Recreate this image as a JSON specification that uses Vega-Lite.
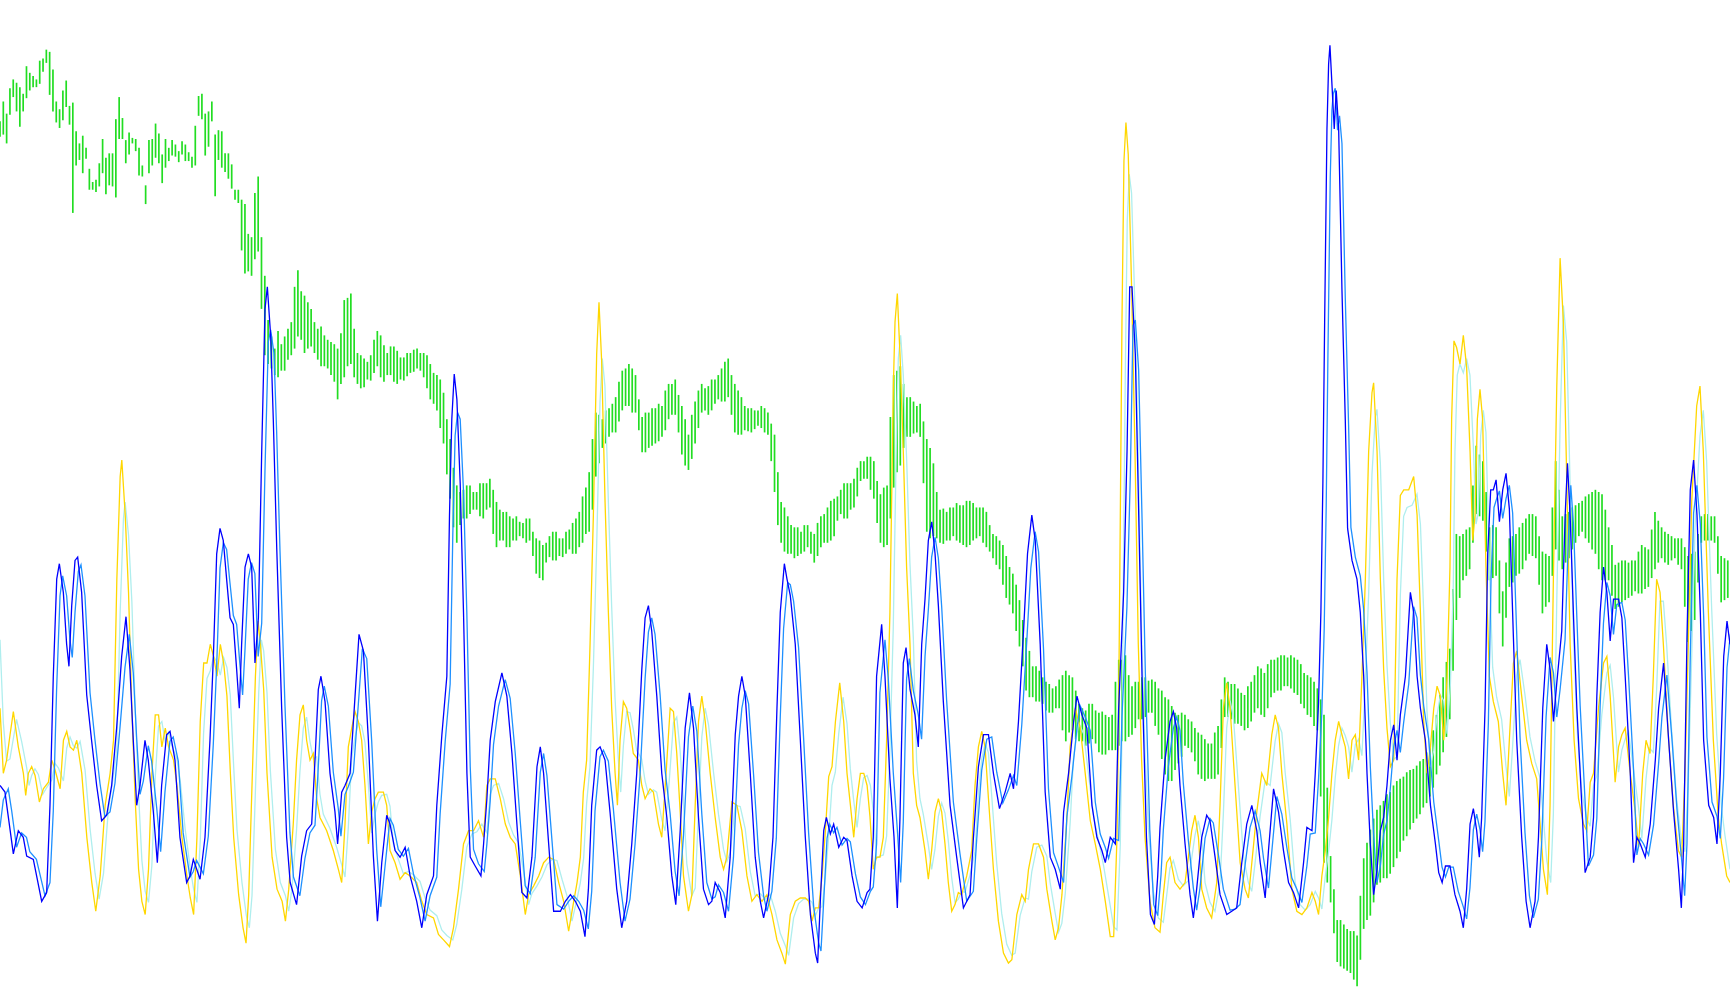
{
"$schema":"https://vega.github.io/schema/vega-lite/v6.json",
"width":1730,"height":1005,
"autosize":{"type":"fit","contains":"padding"},
"padding":0,
"background":"white",
"config":{"view":{"stroke":null}},
"datasets":{
"bars":[{"x":0,"p1":110,"p2":124},{"x":3,"p1":92,"p2":122},{"x":6,"p1":103,"p2":130},{"x":9,"p1":80,"p2":104},{"x":12,"p1":72,"p2":88},{"x":15,"p1":75,"p2":101},{"x":18,"p1":79,"p2":115},{"x":21,"p1":85,"p2":101},{"x":24,"p1":60,"p2":89},{"x":27,"p1":66,"p2":82},{"x":30,"p1":69,"p2":79},{"x":33,"p1":72,"p2":79},{"x":36,"p1":55,"p2":76},{"x":39,"p1":53,"p2":65},{"x":42,"p1":45,"p2":57},{"x":45,"p1":47,"p2":86},{"x":48,"p1":63,"p2":101},{"x":51,"p1":92,"p2":111},{"x":54,"p1":99,"p2":116},{"x":57,"p1":82,"p2":109},{"x":60,"p1":73,"p2":97},{"x":63,"p1":96,"p2":113},{"x":66,"p1":93,"p2":193},{"x":69,"p1":119,"p2":150},{"x":72,"p1":130,"p2":145},{"x":75,"p1":123,"p2":157},{"x":78,"p1":134,"p2":144},{"x":81,"p1":153,"p2":172},{"x":84,"p1":165,"p2":172},{"x":87,"p1":163,"p2":174},{"x":90,"p1":148,"p2":169},{"x":93,"p1":126,"p2":157},{"x":96,"p1":143,"p2":176},{"x":99,"p1":139,"p2":168},{"x":102,"p1":139,"p2":169},{"x":105,"p1":108,"p2":179},{"x":108,"p1":88,"p2":126},{"x":111,"p1":107,"p2":126},{"x":114,"p1":127,"p2":148},{"x":117,"p1":120,"p2":140},{"x":120,"p1":125,"p2":130},{"x":123,"p1":126,"p2":137},{"x":126,"p1":134,"p2":159},{"x":129,"p1":150,"p2":160},{"x":132,"p1":168,"p2":185},{"x":135,"p1":127,"p2":157},{"x":138,"p1":126,"p2":150},{"x":141,"p1":112,"p2":143},{"x":144,"p1":121,"p2":148},{"x":147,"p1":140,"p2":166},{"x":150,"p1":126,"p2":152},{"x":153,"p1":134,"p2":146},{"x":156,"p1":127,"p2":141},{"x":159,"p1":131,"p2":142},{"x":162,"p1":137,"p2":147},{"x":165,"p1":128,"p2":140},{"x":168,"p1":131,"p2":146},{"x":171,"p1":138,"p2":146},{"x":174,"p1":142,"p2":152},{"x":177,"p1":114,"p2":150},{"x":180,"p1":87,"p2":105},{"x":183,"p1":85,"p2":108},{"x":186,"p1":103,"p2":141},{"x":189,"p1":101,"p2":133},{"x":192,"p1":92,"p2":110},{"x":195,"p1":122,"p2":178},{"x":198,"p1":118,"p2":145},{"x":201,"p1":119,"p2":152},{"x":204,"p1":139,"p2":156},{"x":207,"p1":139,"p2":162},{"x":210,"p1":149,"p2":171},{"x":213,"p1":172,"p2":181},{"x":216,"p1":172,"p2":184},{"x":219,"p1":181,"p2":227},{"x":222,"p1":185,"p2":248},{"x":225,"p1":212,"p2":246},{"x":228,"p1":215,"p2":250},{"x":231,"p1":175,"p2":235},{"x":234,"p1":160,"p2":228},{"x":237,"p1":215,"p2":280},{"x":240,"p1":250,"p2":322},{"x":243,"p1":290,"p2":330},{"x":246,"p1":305,"p2":334},{"x":249,"p1":316,"p2":340},{"x":252,"p1":300,"p2":342},{"x":255,"p1":312,"p2":336},{"x":258,"p1":305,"p2":336},{"x":261,"p1":298,"p2":326},{"x":264,"p1":292,"p2":322},{"x":267,"p1":260,"p2":316},{"x":270,"p1":245,"p2":305},{"x":273,"p1":264,"p2":308},{"x":276,"p1":268,"p2":320},{"x":279,"p1":274,"p2":316},{"x":282,"p1":280,"p2":314},{"x":285,"p1":292,"p2":320},{"x":288,"p1":298,"p2":326},{"x":291,"p1":296,"p2":332},{"x":294,"p1":304,"p2":332},{"x":297,"p1":308,"p2":334},{"x":300,"p1":310,"p2":340},{"x":303,"p1":312,"p2":346},{"x":306,"p1":316,"p2":362},{"x":309,"p1":302,"p2":348},{"x":312,"p1":272,"p2":342},{"x":315,"p1":270,"p2":332},{"x":318,"p1":266,"p2":330},{"x":321,"p1":298,"p2":342},{"x":324,"p1":320,"p2":348},{"x":327,"p1":322,"p2":352},{"x":330,"p1":325,"p2":351},{"x":333,"p1":328,"p2":344},{"x":336,"p1":322,"p2":345},{"x":339,"p1":308,"p2":338},{"x":342,"p1":300,"p2":332},{"x":345,"p1":304,"p2":342},{"x":348,"p1":313,"p2":346},{"x":351,"p1":320,"p2":340},{"x":354,"p1":314,"p2":340},{"x":357,"p1":314,"p2":346},{"x":360,"p1":318,"p2":348},{"x":363,"p1":324,"p2":344},{"x":366,"p1":324,"p2":345},{"x":369,"p1":320,"p2":341},{"x":372,"p1":320,"p2":338},{"x":375,"p1":317,"p2":337},{"x":378,"p1":316,"p2":334},{"x":381,"p1":320,"p2":336},{"x":384,"p1":320,"p2":342},{"x":387,"p1":322,"p2":352},{"x":390,"p1":330,"p2":362},{"x":393,"p1":338,"p2":366},{"x":396,"p1":340,"p2":372},{"x":399,"p1":344,"p2":388},{"x":402,"p1":356,"p2":402},{"x":405,"p1":380,"p2":430},{"x":408,"p1":398,"p2":452},{"x":411,"p1":424,"p2":478},{"x":414,"p1":440,"p2":492},{"x":417,"p1":446,"p2":476},{"x":420,"p1":444,"p2":470},{"x":423,"p1":440,"p2":470},{"x":426,"p1":440,"p2":466},{"x":429,"p1":446,"p2":462},{"x":432,"p1":446,"p2":462},{"x":435,"p1":438,"p2":468},{"x":438,"p1":438,"p2":470},{"x":441,"p1":438,"p2":462},{"x":444,"p1":434,"p2":460},{"x":447,"p1":444,"p2":484},{"x":450,"p1":455,"p2":496},{"x":453,"p1":462,"p2":490},{"x":456,"p1":464,"p2":490},{"x":459,"p1":464,"p2":496},{"x":462,"p1":468,"p2":496},{"x":465,"p1":470,"p2":490},{"x":468,"p1":468,"p2":490},{"x":471,"p1":473,"p2":486},{"x":474,"p1":474,"p2":488},{"x":477,"p1":470,"p2":492},{"x":480,"p1":470,"p2":490},{"x":483,"p1":482,"p2":504},{"x":486,"p1":488,"p2":520},{"x":489,"p1":490,"p2":524},{"x":492,"p1":494,"p2":526},{"x":495,"p1":492,"p2":510},{"x":498,"p1":486,"p2":505},{"x":501,"p1":482,"p2":508},{"x":504,"p1":482,"p2":508},{"x":507,"p1":488,"p2":504},{"x":510,"p1":488,"p2":505},{"x":513,"p1":482,"p2":502},{"x":516,"p1":480,"p2":498},{"x":519,"p1":474,"p2":502},{"x":522,"p1":470,"p2":502},{"x":525,"p1":464,"p2":496},{"x":528,"p1":450,"p2":492},{"x":531,"p1":442,"p2":484},{"x":534,"p1":428,"p2":482},{"x":537,"p1":398,"p2":462},{"x":540,"p1":374,"p2":432},{"x":543,"p1":376,"p2":420},{"x":546,"p1":380,"p2":406},{"x":549,"p1":372,"p2":402},{"x":552,"p1":370,"p2":396},{"x":555,"p1":366,"p2":392},{"x":558,"p1":360,"p2":392},{"x":561,"p1":346,"p2":382},{"x":564,"p1":336,"p2":372},{"x":567,"p1":334,"p2":368},{"x":570,"p1":330,"p2":368},{"x":573,"p1":334,"p2":374},{"x":576,"p1":340,"p2":374},{"x":579,"p1":362,"p2":390},{"x":582,"p1":378,"p2":410},{"x":585,"p1":374,"p2":410},{"x":588,"p1":374,"p2":406},{"x":591,"p1":370,"p2":404},{"x":594,"p1":370,"p2":402},{"x":597,"p1":366,"p2":400},{"x":600,"p1":368,"p2":396},{"x":603,"p1":354,"p2":390},{"x":606,"p1":348,"p2":380},{"x":609,"p1":348,"p2":376},{"x":612,"p1":344,"p2":376},{"x":615,"p1":358,"p2":392},{"x":618,"p1":368,"p2":412},{"x":621,"p1":380,"p2":422},{"x":624,"p1":394,"p2":426},{"x":627,"p1":376,"p2":416},{"x":630,"p1":364,"p2":402},{"x":633,"p1":354,"p2":388},{"x":636,"p1":348,"p2":374},{"x":639,"p1":352,"p2":372},{"x":642,"p1":350,"p2":376},{"x":645,"p1":344,"p2":372},{"x":648,"p1":344,"p2":366},{"x":651,"p1":340,"p2":362},{"x":654,"p1":334,"p2":364},{"x":657,"p1":328,"p2":364},{"x":660,"p1":325,"p2":360},{"x":663,"p1":340,"p2":376},{"x":666,"p1":348,"p2":392},{"x":669,"p1":354,"p2":394},{"x":672,"p1":360,"p2":394},{"x":675,"p1":368,"p2":390},{"x":678,"p1":370,"p2":391},{"x":681,"p1":370,"p2":392},{"x":684,"p1":372,"p2":389},{"x":687,"p1":372,"p2":386},{"x":690,"p1":368,"p2":388},{"x":693,"p1":370,"p2":392},{"x":696,"p1":374,"p2":394},{"x":699,"p1":384,"p2":418},{"x":702,"p1":394,"p2":446},{"x":705,"p1":428,"p2":476},{"x":708,"p1":455,"p2":492},{"x":711,"p1":460,"p2":500},{"x":714,"p1":468,"p2":502},{"x":717,"p1":476,"p2":502},{"x":720,"p1":478,"p2":506},{"x":723,"p1":478,"p2":504},{"x":726,"p1":482,"p2":502},{"x":729,"p1":476,"p2":500},{"x":732,"p1":476,"p2":496},{"x":735,"p1":482,"p2":502},{"x":738,"p1":484,"p2":510},{"x":741,"p1":474,"p2":504},{"x":744,"p1":468,"p2":496},{"x":747,"p1":466,"p2":492},{"x":750,"p1":460,"p2":492},{"x":753,"p1":454,"p2":490},{"x":756,"p1":452,"p2":486},{"x":759,"p1":450,"p2":472},{"x":762,"p1":444,"p2":466},{"x":765,"p1":438,"p2":470},{"x":768,"p1":438,"p2":470},{"x":771,"p1":438,"p2":462},{"x":774,"p1":434,"p2":460},{"x":777,"p1":424,"p2":450},{"x":780,"p1":418,"p2":436},{"x":783,"p1":418,"p2":434},{"x":786,"p1":414,"p2":434},{"x":789,"p1":414,"p2":444},{"x":792,"p1":418,"p2":452},{"x":795,"p1":436,"p2":474},{"x":798,"p1":448,"p2":492},{"x":801,"p1":442,"p2":496},{"x":804,"p1":440,"p2":494},{"x":807,"p1":378,"p2":470},{"x":810,"p1":340,"p2":442},{"x":813,"p1":336,"p2":428},{"x":816,"p1":332,"p2":422},{"x":819,"p1":348,"p2":406},{"x":822,"p1":360,"p2":396},{"x":825,"p1":360,"p2":396},{"x":828,"p1":364,"p2":393},{"x":831,"p1":368,"p2":392},{"x":834,"p1":366,"p2":396},{"x":837,"p1":382,"p2":438},{"x":840,"p1":398,"p2":482},{"x":843,"p1":406,"p2":488},{"x":846,"p1":420,"p2":486},{"x":849,"p1":446,"p2":488},{"x":852,"p1":462,"p2":492},{"x":855,"p1":461,"p2":493},{"x":858,"p1":464,"p2":490},{"x":861,"p1":460,"p2":490},{"x":864,"p1":460,"p2":486},{"x":867,"p1":456,"p2":490},{"x":870,"p1":458,"p2":492},{"x":873,"p1":458,"p2":494},{"x":876,"p1":454,"p2":496},{"x":879,"p1":454,"p2":494},{"x":882,"p1":456,"p2":490},{"x":885,"p1":460,"p2":488},{"x":888,"p1":460,"p2":486},{"x":891,"p1":460,"p2":492},{"x":894,"p1":464,"p2":496},{"x":897,"p1":476,"p2":500},{"x":900,"p1":484,"p2":506},{"x":903,"p1":486,"p2":512},{"x":906,"p1":490,"p2":516},{"x":909,"p1":494,"p2":530},{"x":912,"p1":504,"p2":542},{"x":915,"p1":514,"p2":548},{"x":918,"p1":520,"p2":556},{"x":921,"p1":530,"p2":572},{"x":924,"p1":544,"p2":586},{"x":927,"p1":562,"p2":604},{"x":930,"p1":578,"p2":626},{"x":933,"p1":590,"p2":632},{"x":936,"p1":604,"p2":632},{"x":939,"p1":604,"p2":636},{"x":942,"p1":608,"p2":636},{"x":945,"p1":614,"p2":638},{"x":948,"p1":618,"p2":644},{"x":951,"p1":620,"p2":646},{"x":954,"p1":624,"p2":646},{"x":957,"p1":622,"p2":642},{"x":960,"p1":616,"p2":642},{"x":963,"p1":612,"p2":662},{"x":966,"p1":608,"p2":672},{"x":969,"p1":612,"p2":664},{"x":972,"p1":614,"p2":662},{"x":975,"p1":626,"p2":670},{"x":978,"p1":638,"p2":672},{"x":981,"p1":642,"p2":672},{"x":984,"p1":644,"p2":676},{"x":987,"p1":638,"p2":674},{"x":990,"p1":638,"p2":670},{"x":993,"p1":644,"p2":674},{"x":996,"p1":646,"p2":682},{"x":999,"p1":645,"p2":684},{"x":1002,"p1":648,"p2":684},{"x":1005,"p1":650,"p2":680},{"x":1008,"p1":648,"p2":680},{"x":1011,"p1":618,"p2":680},{"x":1014,"p1":598,"p2":676},{"x":1017,"p1":598,"p2":672},{"x":1020,"p1":594,"p2":672},{"x":1023,"p1":612,"p2":668},{"x":1026,"p1":622,"p2":666},{"x":1029,"p1":618,"p2":660},{"x":1032,"p1":618,"p2":652},{"x":1035,"p1":614,"p2":652},{"x":1038,"p1":614,"p2":650},{"x":1041,"p1":617,"p2":646},{"x":1044,"p1":616,"p2":646},{"x":1047,"p1":618,"p2":658},{"x":1050,"p1":624,"p2":666},{"x":1053,"p1":626,"p2":688},{"x":1056,"p1":632,"p2":702},{"x":1059,"p1":634,"p2":708},{"x":1062,"p1":640,"p2":708},{"x":1065,"p1":646,"p2":698},{"x":1068,"p1":648,"p2":692},{"x":1071,"p1":646,"p2":686},{"x":1074,"p1":648,"p2":676},{"x":1077,"p1":652,"p2":678},{"x":1080,"p1":654,"p2":682},{"x":1083,"p1":660,"p2":690},{"x":1086,"p1":664,"p2":702},{"x":1089,"p1":666,"p2":706},{"x":1092,"p1":670,"p2":708},{"x":1095,"p1":674,"p2":706},{"x":1098,"p1":674,"p2":706},{"x":1101,"p1":664,"p2":706},{"x":1104,"p1":658,"p2":702},{"x":1107,"p1":634,"p2":678},{"x":1110,"p1":614,"p2":650},{"x":1113,"p1":618,"p2":650},{"x":1116,"p1":620,"p2":652},{"x":1119,"p1":620,"p2":656},{"x":1122,"p1":624,"p2":656},{"x":1125,"p1":628,"p2":658},{"x":1128,"p1":630,"p2":662},{"x":1131,"p1":622,"p2":660},{"x":1134,"p1":618,"p2":654},{"x":1137,"p1":612,"p2":646},{"x":1140,"p1":604,"p2":642},{"x":1143,"p1":606,"p2":648},{"x":1146,"p1":610,"p2":650},{"x":1149,"p1":602,"p2":642},{"x":1152,"p1":598,"p2":632},{"x":1155,"p1":598,"p2":628},{"x":1158,"p1":596,"p2":626},{"x":1161,"p1":594,"p2":626},{"x":1164,"p1":594,"p2":622},{"x":1167,"p1":596,"p2":622},{"x":1170,"p1":594,"p2":624},{"x":1173,"p1":596,"p2":628},{"x":1176,"p1":598,"p2":630},{"x":1179,"p1":602,"p2":638},{"x":1182,"p1":610,"p2":642},{"x":1185,"p1":612,"p2":648},{"x":1188,"p1":614,"p2":650},{"x":1191,"p1":618,"p2":658},{"x":1194,"p1":624,"p2":662},{"x":1197,"p1":634,"p2":722},{"x":1200,"p1":648,"p2":782},{"x":1203,"p1":714,"p2":800},{"x":1206,"p1":776,"p2":818},{"x":1209,"p1":806,"p2":846},{"x":1212,"p1":834,"p2":872},{"x":1215,"p1":834,"p2":876},{"x":1218,"p1":838,"p2":878},{"x":1221,"p1":842,"p2":880},{"x":1224,"p1":844,"p2":882},{"x":1227,"p1":844,"p2":888},{"x":1230,"p1":848,"p2":894},{"x":1233,"p1":812,"p2":870},{"x":1236,"p1":778,"p2":842},{"x":1239,"p1":764,"p2":834},{"x":1242,"p1":752,"p2":830},{"x":1245,"p1":742,"p2":818},{"x":1248,"p1":734,"p2":802},{"x":1251,"p1":730,"p2":800},{"x":1254,"p1":726,"p2":796},{"x":1257,"p1":720,"p2":796},{"x":1260,"p1":718,"p2":792},{"x":1263,"p1":712,"p2":786},{"x":1266,"p1":708,"p2":778},{"x":1269,"p1":706,"p2":772},{"x":1272,"p1":704,"p2":762},{"x":1275,"p1":700,"p2":758},{"x":1278,"p1":698,"p2":752},{"x":1281,"p1":697,"p2":746},{"x":1284,"p1":694,"p2":742},{"x":1287,"p1":690,"p2":738},{"x":1290,"p1":688,"p2":732},{"x":1293,"p1":682,"p2":728},{"x":1296,"p1":678,"p2":722},{"x":1299,"p1":662,"p2":714},{"x":1302,"p1":648,"p2":702},{"x":1305,"p1":630,"p2":694},{"x":1308,"p1":614,"p2":682},{"x":1311,"p1":600,"p2":668},{"x":1314,"p1":588,"p2":652},{"x":1317,"p1":534,"p2":608},{"x":1320,"p1":484,"p2":562},{"x":1323,"p1":486,"p2":542},{"x":1326,"p1":484,"p2":526},{"x":1329,"p1":480,"p2":522},{"x":1332,"p1":478,"p2":516},{"x":1335,"p1":440,"p2":492},{"x":1338,"p1":404,"p2":466},{"x":1341,"p1":412,"p2":468},{"x":1344,"p1":418,"p2":472},{"x":1347,"p1":446,"p2":500},{"x":1350,"p1":478,"p2":526},{"x":1353,"p1":476,"p2":524},{"x":1356,"p1":478,"p2":522},{"x":1359,"p1":508,"p2":556},{"x":1362,"p1":536,"p2":586},{"x":1365,"p1":510,"p2":560},{"x":1368,"p1":488,"p2":532},{"x":1371,"p1":486,"p2":528},{"x":1374,"p1":484,"p2":522},{"x":1377,"p1":478,"p2":520},{"x":1380,"p1":474,"p2":516},{"x":1383,"p1":470,"p2":508},{"x":1386,"p1":466,"p2":502},{"x":1389,"p1":466,"p2":504},{"x":1392,"p1":468,"p2":506},{"x":1395,"p1":486,"p2":530},{"x":1398,"p1":500,"p2":556},{"x":1401,"p1":502,"p2":550},{"x":1404,"p1":504,"p2":546},{"x":1407,"p1":460,"p2":522},{"x":1410,"p1":418,"p2":498},{"x":1413,"p1":444,"p2":508},{"x":1416,"p1":468,"p2":516},{"x":1419,"p1":466,"p2":510},{"x":1422,"p1":464,"p2":506},{"x":1425,"p1":460,"p2":498},{"x":1428,"p1":458,"p2":492},{"x":1431,"p1":456,"p2":486},{"x":1434,"p1":454,"p2":482},{"x":1437,"p1":450,"p2":488},{"x":1440,"p1":448,"p2":492},{"x":1443,"p1":446,"p2":498},{"x":1446,"p1":444,"p2":502},{"x":1449,"p1":446,"p2":516},{"x":1452,"p1":448,"p2":526},{"x":1455,"p1":462,"p2":526},{"x":1458,"p1":478,"p2":526},{"x":1461,"p1":494,"p2":540},{"x":1464,"p1":512,"p2":552},{"x":1467,"p1":510,"p2":550},{"x":1470,"p1":508,"p2":546},{"x":1473,"p1":508,"p2":544},{"x":1476,"p1":510,"p2":542},{"x":1479,"p1":508,"p2":540},{"x":1482,"p1":508,"p2":536},{"x":1485,"p1":500,"p2":538},{"x":1488,"p1":494,"p2":538},{"x":1491,"p1":496,"p2":534},{"x":1494,"p1":498,"p2":532},{"x":1497,"p1":480,"p2":524},{"x":1500,"p1":464,"p2":516},{"x":1503,"p1":472,"p2":510},{"x":1506,"p1":478,"p2":506},{"x":1509,"p1":482,"p2":510},{"x":1512,"p1":484,"p2":512},{"x":1515,"p1":486,"p2":508},{"x":1518,"p1":488,"p2":506},{"x":1521,"p1":488,"p2":512},{"x":1524,"p1":488,"p2":516},{"x":1527,"p1":496,"p2":550},{"x":1530,"p1":504,"p2":582},{"x":1533,"p1":502,"p2":572},{"x":1536,"p1":500,"p2":562},{"x":1539,"p1":484,"p2":528},{"x":1542,"p1":468,"p2":492},{"x":1545,"p1":466,"p2":490},{"x":1548,"p1":466,"p2":490},{"x":1551,"p1":468,"p2":490},{"x":1554,"p1":468,"p2":492},{"x":1557,"p1":486,"p2":520},{"x":1560,"p1":504,"p2":546},{"x":1563,"p1":506,"p2":544},{"x":1566,"p1":508,"p2":542}],
"blue":[{"x":0,"v":712},{"x":4.5,"v":718},{"x":7.6,"v":741},{"x":12.1,"v":774},{"x":16.6,"v":753},{"x":21.1,"v":759},{"x":24.2,"v":776},{"x":30.2,"v":779},{"x":37.8,"v":817},{"x":42.3,"v":809},{"x":45.3,"v":730},{"x":48.3,"v":613},{"x":51.4,"v":525},{"x":53.8,"v":511},{"x":57.4,"v":537},{"x":60.4,"v":584},{"x":62.5,"v":604},{"x":65,"v":549},{"x":68,"v":508},{"x":70.4,"v":505},{"x":74,"v":537},{"x":78.6,"v":630},{"x":83,"v":671},{"x":87.6,"v":712},{"x":92.1,"v":744},{"x":96.7,"v":739},{"x":101.2,"v":712},{"x":105.7,"v":660},{"x":110.3,"v":595},{"x":114.2,"v":559},{"x":117.8,"v":607},{"x":120.8,"v":671},{"x":123.9,"v":730},{"x":126.9,"v":712},{"x":131.4,"v":671},{"x":134.4,"v":689},{"x":139,"v":736},{"x":142.6,"v":782},{"x":146.5,"v":712},{"x":151,"v":666},{"x":154.1,"v":663},{"x":158.6,"v":689},{"x":163.1,"v":759},{"x":169.2,"v":800},{"x":172.2,"v":794},{"x":175.2,"v":779},{"x":178.3,"v":788},{"x":181.3,"v":797},{"x":185.8,"v":759},{"x":190.3,"v":671},{"x":193.4,"v":595},{"x":196.4,"v":502},{"x":199.4,"v":479},{"x":202.4,"v":490},{"x":205.4,"v":525},{"x":208.5,"v":560},{"x":211.5,"v":566},{"x":214.5,"v":607},{"x":216.9,"v":642},{"x":219,"v":584},{"x":222.1,"v":514},{"x":225.1,"v":502},{"x":228.1,"v":514},{"x":231.1,"v":601},{"x":234.2,"v":560},{"x":237.2,"v":409},{"x":240.2,"v":280},{"x":242.3,"v":260},{"x":245.3,"v":304},{"x":247.7,"v":380},{"x":250.8,"v":496},{"x":255.3,"v":642},{"x":259.8,"v":759},{"x":263,"v":800},{"x":268.8,"v":820},{"x":273.4,"v":776},{"x":277.9,"v":753},{"x":282.5,"v":747},{"x":285.5,"v":689},{"x":288.5,"v":625},{"x":290.9,"v":613},{"x":294.6,"v":636},{"x":299.1,"v":701},{"x":303.6,"v":736},{"x":306,"v":765},{"x":309.7,"v":718},{"x":312.7,"v":712},{"x":317.3,"v":701},{"x":321.8,"v":631},{"x":325.4,"v":575},{"x":329.4,"v":590},{"x":333.9,"v":671},{"x":338.4,"v":776},{"x":342.1,"v":835},{"x":346,"v":782},{"x":350.5,"v":739},{"x":353.5,"v":747},{"x":358.1,"v":771},{"x":362.6,"v":777},{"x":367.2,"v":768},{"x":371.7,"v":794},{"x":377.7,"v":817},{"x":382.3,"v":841},{"x":386.8,"v":811},{"x":392.9,"v":794},{"x":395.9,"v":730},{"x":400.5,"v":666},{"x":405,"v":613},{"x":407.4,"v":467},{"x":409.5,"v":380},{"x":411.7,"v":339},{"x":414.1,"v":362},{"x":417.1,"v":438},{"x":420.1,"v":555},{"x":423.2,"v":701},{"x":426.2,"v":777},{"x":430.7,"v":785},{"x":435.9,"v":794},{"x":438.3,"v":765},{"x":441.3,"v":724},{"x":444.3,"v":671},{"x":448.9,"v":636},{"x":454.9,"v":610},{"x":459.4,"v":631},{"x":464,"v":683},{"x":468.5,"v":747},{"x":473,"v":809},{"x":477.6,"v":814},{"x":482.1,"v":777},{"x":486.7,"v":695},{"x":489.7,"v":677},{"x":492.7,"v":701},{"x":497.3,"v":765},{"x":501.8,"v":826},{"x":507.9,"v":826},{"x":512.4,"v":817},{"x":517,"v":811},{"x":521.5,"v":817},{"x":526,"v":826},{"x":530.2,"v":849},{"x":533.3,"v":806},{"x":536.3,"v":730},{"x":540.8,"v":680},{"x":543.9,"v":677},{"x":548.4,"v":689},{"x":552.9,"v":736},{"x":559,"v":806},{"x":563.5,"v":841},{"x":568,"v":817},{"x":572.6,"v":765},{"x":577.1,"v":701},{"x":581.7,"v":607},{"x":584.7,"v":560},{"x":587.7,"v":549},{"x":590.7,"v":572},{"x":595.3,"v":631},{"x":599.8,"v":701},{"x":604.4,"v":741},{"x":608.9,"v":794},{"x":612.5,"v":820},{"x":616.5,"v":753},{"x":621,"v":660},{"x":624.9,"v":628},{"x":628.6,"v":660},{"x":633.1,"v":741},{"x":637.6,"v":806},{"x":642.2,"v":820},{"x":645.2,"v":817},{"x":648.2,"v":800},{"x":652.8,"v":809},{"x":657.3,"v":832},{"x":661.8,"v":777},{"x":666.4,"v":666},{"x":669.4,"v":631},{"x":672.4,"v":613},{"x":675.5,"v":631},{"x":680,"v":701},{"x":684.5,"v":777},{"x":689.1,"v":817},{"x":692.1,"v":832},{"x":696.6,"v":811},{"x":700.6,"v":759},{"x":704.2,"v":642},{"x":707.2,"v":555},{"x":710.9,"v":511},{"x":713.3,"v":525},{"x":716.3,"v":540},{"x":720.8,"v":584},{"x":725.4,"v":671},{"x":729.9,"v":759},{"x":734.5,"v":829},{"x":739,"v":864},{"x":741.1,"v":873},{"x":743.5,"v":817},{"x":746.6,"v":753},{"x":749,"v":741},{"x":752.6,"v":756},{"x":755.6,"v":747},{"x":760.2,"v":768},{"x":764.7,"v":759},{"x":767.7,"v":762},{"x":772.3,"v":794},{"x":776.8,"v":817},{"x":781.4,"v":823},{"x":785.9,"v":809},{"x":788.5,"v":806},{"x":791.5,"v":759},{"x":794.5,"v":613},{"x":799.1,"v":566},{"x":802.1,"v":613},{"x":806.6,"v":706},{"x":810.3,"v":759},{"x":813.3,"v":823},{"x":815.7,"v":741},{"x":818.7,"v":601},{"x":821.2,"v":587},{"x":824.8,"v":625},{"x":829.3,"v":648},{"x":832.3,"v":677},{"x":835.4,"v":584},{"x":838.4,"v":543},{"x":841.4,"v":490},{"x":844.5,"v":473},{"x":847.5,"v":502},{"x":850.5,"v":549},{"x":855,"v":636},{"x":861.1,"v":730},{"x":867.1,"v":777},{"x":873.2,"v":823},{"x":879.2,"v":811},{"x":882.3,"v":759},{"x":886.8,"v":695},{"x":891.4,"v":666},{"x":895.9,"v":666},{"x":900.4,"v":701},{"x":905.9,"v":733},{"x":911,"v":718},{"x":915.6,"v":701},{"x":918.6,"v":715},{"x":923.1,"v":654},{"x":927.7,"v":572},{"x":931.3,"v":502},{"x":935.2,"v":467},{"x":938.3,"v":490},{"x":942.8,"v":584},{"x":947.3,"v":718},{"x":951.9,"v":777},{"x":956.4,"v":788},{"x":961,"v":806},{"x":964,"v":736},{"x":968.5,"v":701},{"x":973.1,"v":654},{"x":976.1,"v":631},{"x":980.6,"v":648},{"x":985.1,"v":660},{"x":989.7,"v":730},{"x":994.2,"v":759},{"x":998.7,"v":771},{"x":1001.8,"v":782},{"x":1006.3,"v":759},{"x":1010.9,"v":765},{"x":1013.9,"v":642},{"x":1018.4,"v":537},{"x":1021.5,"v":409},{"x":1023.9,"v":260},{"x":1026,"v":260},{"x":1029,"v":321},{"x":1032.1,"v":467},{"x":1035.1,"v":613},{"x":1039.1,"v":759},{"x":1042.7,"v":829},{"x":1046.3,"v":838},{"x":1049.3,"v":794},{"x":1051.4,"v":750},{"x":1055.9,"v":689},{"x":1060.5,"v":654},{"x":1063.5,"v":645},{"x":1066.5,"v":660},{"x":1069.5,"v":712},{"x":1074.1,"v":765},{"x":1078.6,"v":811},{"x":1081.6,"v":832},{"x":1084.6,"v":806},{"x":1089.2,"v":759},{"x":1093.7,"v":739},{"x":1096.7,"v":744},{"x":1101.3,"v":777},{"x":1105.8,"v":811},{"x":1111.9,"v":829},{"x":1116.4,"v":826},{"x":1120.9,"v":823},{"x":1125.5,"v":782},{"x":1130,"v":747},{"x":1134.6,"v":730},{"x":1139.1,"v":753},{"x":1142.2,"v":782},{"x":1146.7,"v":814},{"x":1149.7,"v":771},{"x":1154.3,"v":715},{"x":1158.8,"v":736},{"x":1163.3,"v":771},{"x":1167.9,"v":800},{"x":1172.4,"v":809},{"x":1177,"v":823},{"x":1181.5,"v":782},{"x":1184.5,"v":750},{"x":1189.1,"v":753},{"x":1192.1,"v":701},{"x":1195.1,"v":636},{"x":1197.2,"v":555},{"x":1199,"v":438},{"x":1200.6,"v":292},{"x":1202.7,"v":117},{"x":1204.2,"v":58},{"x":1205.4,"v":41},{"x":1207.2,"v":76},{"x":1209.3,"v":117},{"x":1211.1,"v":82},{"x":1213.3,"v":117},{"x":1216.3,"v":263},{"x":1219.3,"v":380},{"x":1221.4,"v":479},{"x":1225.4,"v":508},{"x":1229.9,"v":525},{"x":1232.9,"v":555},{"x":1236,"v":613},{"x":1239,"v":701},{"x":1242,"v":765},{"x":1245,"v":811},{"x":1248.1,"v":788},{"x":1251.1,"v":753},{"x":1254.1,"v":741},{"x":1257.1,"v":712},{"x":1260.2,"v":671},{"x":1263.2,"v":657},{"x":1266.2,"v":689},{"x":1269.2,"v":648},{"x":1273.8,"v":613},{"x":1278.3,"v":537},{"x":1281.3,"v":555},{"x":1284.4,"v":613},{"x":1287.4,"v":642},{"x":1291.9,"v":671},{"x":1296.5,"v":730},{"x":1301,"v":765},{"x":1304,"v":791},{"x":1307.1,"v":800},{"x":1310.1,"v":785},{"x":1314.2,"v":785},{"x":1318.7,"v":811},{"x":1323.3,"v":826},{"x":1326.3,"v":841},{"x":1329.3,"v":806},{"x":1332.4,"v":747},{"x":1335.4,"v":733},{"x":1338.4,"v":753},{"x":1340.8,"v":777},{"x":1342.9,"v":741},{"x":1346,"v":642},{"x":1348.4,"v":502},{"x":1351.1,"v":444},{"x":1353.5,"v":444},{"x":1356,"v":435},{"x":1359,"v":473},{"x":1362,"v":444},{"x":1365,"v":429},{"x":1368,"v":461},{"x":1371.7,"v":578},{"x":1374.7,"v":671},{"x":1379.2,"v":759},{"x":1383.2,"v":817},{"x":1386.8,"v":841},{"x":1391.3,"v":817},{"x":1394.4,"v":759},{"x":1398.3,"v":642},{"x":1401.9,"v":584},{"x":1405,"v":607},{"x":1408,"v":654},{"x":1411,"v":619},{"x":1415.5,"v":572},{"x":1418.6,"v":467},{"x":1420.7,"v":420},{"x":1423.1,"v":467},{"x":1426.2,"v":560},{"x":1429.2,"v":642},{"x":1433.7,"v":730},{"x":1436.7,"v":791},{"x":1441.3,"v":777},{"x":1444.3,"v":741},{"x":1447.3,"v":631},{"x":1450.3,"v":555},{"x":1453.4,"v":514},{"x":1456.4,"v":537},{"x":1459.4,"v":581},{"x":1462.4,"v":543},{"x":1467,"v":543},{"x":1470,"v":560},{"x":1473,"v":613},{"x":1477.6,"v":701},{"x":1480.6,"v":782},{"x":1483.6,"v":759},{"x":1486.7,"v":765},{"x":1491.2,"v":777},{"x":1495.7,"v":747},{"x":1500.3,"v":689},{"x":1503.3,"v":642},{"x":1507.8,"v":601},{"x":1512.4,"v":671},{"x":1516.9,"v":736},{"x":1521.4,"v":788},{"x":1523.9,"v":823},{"x":1526,"v":765},{"x":1529,"v":578},{"x":1532,"v":444},{"x":1535,"v":417},{"x":1538.1,"v":467},{"x":1541.1,"v":555},{"x":1544.1,"v":671},{"x":1548.7,"v":730},{"x":1553.2,"v":741},{"x":1556.2,"v":765},{"x":1559.2,"v":701},{"x":1562.3,"v":595},{"x":1565.3,"v":563},{"x":1568,"v":584}],
"dblue":[{"x":0,"v":750},{"x":3,"v":725},{"x":7.5,"v":715},{"x":10.6,"v":735},{"x":15,"v":768},{"x":19.6,"v":755},{"x":24,"v":759},{"x":27,"v":772},{"x":33,"v":779},{"x":40.8,"v":812},{"x":45.3,"v":800},{"x":48.3,"v":735},{"x":51.3,"v":625},{"x":54.4,"v":540},{"x":56.8,"v":522},{"x":60.4,"v":540},{"x":63.4,"v":580},{"x":65.5,"v":596},{"x":68,"v":555},{"x":71,"v":518},{"x":73.4,"v":512},{"x":77,"v":540},{"x":81.6,"v":628},{"x":86,"v":670},{"x":90.6,"v":710},{"x":95,"v":740},{"x":99.7,"v":736},{"x":104.2,"v":710},{"x":108.7,"v":660},{"x":113.3,"v":605},{"x":117.2,"v":575},{"x":120.8,"v":610},{"x":123.8,"v":668},{"x":126.9,"v":720},{"x":129.9,"v":708},{"x":134.4,"v":676},{"x":137.4,"v":690},{"x":142,"v":732},{"x":145.6,"v":772},{"x":149.5,"v":718},{"x":154,"v":672},{"x":157,"v":668},{"x":161.6,"v":690},{"x":166,"v":755},{"x":172.2,"v":795},{"x":175.2,"v":790},{"x":178.2,"v":780},{"x":181.3,"v":786},{"x":184.3,"v":792},{"x":188.8,"v":758},{"x":193.3,"v":675},{"x":196.4,"v":603},{"x":199.4,"v":515},{"x":202.4,"v":492},{"x":205.4,"v":498},{"x":208.4,"v":528},{"x":211.5,"v":558},{"x":214.5,"v":566},{"x":217.5,"v":603},{"x":219.9,"v":630},{"x":222,"v":590},{"x":225,"v":525},{"x":228,"v":510},{"x":231,"v":520},{"x":234,"v":595},{"x":237.2,"v":565},{"x":240.2,"v":425},{"x":243.2,"v":310},{"x":245.3,"v":299},{"x":248.3,"v":320},{"x":250.7,"v":390},{"x":253.8,"v":500},{"x":258.3,"v":640},{"x":262.8,"v":755},{"x":266,"v":795},{"x":271.8,"v":812},{"x":276.4,"v":778},{"x":280.9,"v":755},{"x":285.5,"v":748},{"x":288.5,"v":695},{"x":291.5,"v":635},{"x":293.9,"v":622},{"x":297.6,"v":640},{"x":302.1,"v":700},{"x":306.6,"v":733},{"x":309,"v":758},{"x":312.7,"v":720},{"x":315.7,"v":713},{"x":320.3,"v":700},{"x":324.8,"v":638},{"x":328.4,"v":588},{"x":332.4,"v":597},{"x":336.9,"v":672},{"x":341.4,"v":770},{"x":345.1,"v":822},{"x":349,"v":785},{"x":353.5,"v":742},{"x":356.5,"v":748},{"x":361,"v":770},{"x":365.6,"v":776},{"x":370.2,"v":769},{"x":374.7,"v":792},{"x":380.7,"v":814},{"x":385.3,"v":835},{"x":389.8,"v":812},{"x":395.9,"v":795},{"x":398.9,"v":738},{"x":403.5,"v":672},{"x":408,"v":620},{"x":410.4,"v":485},{"x":412.5,"v":395},{"x":414.7,"v":374},{"x":417.1,"v":380},{"x":420.1,"v":445},{"x":423.1,"v":555},{"x":426.2,"v":695},{"x":429.2,"v":770},{"x":433.7,"v":783},{"x":438.9,"v":790},{"x":441.3,"v":765},{"x":444.3,"v":726},{"x":447.3,"v":675},{"x":451.9,"v":640},{"x":457.9,"v":616},{"x":462.4,"v":633},{"x":467,"v":683},{"x":471.5,"v":744},{"x":476,"v":803},{"x":480.6,"v":810},{"x":485.1,"v":777},{"x":489.7,"v":700},{"x":492.7,"v":683},{"x":495.7,"v":703},{"x":500.3,"v":762},{"x":504.8,"v":820},{"x":510.9,"v":824},{"x":515.4,"v":817},{"x":520,"v":812},{"x":524.5,"v":817},{"x":529,"v":825},{"x":533.2,"v":842},{"x":536.3,"v":808},{"x":539.3,"v":735},{"x":543.8,"v":686},{"x":546.9,"v":680},{"x":551.4,"v":690},{"x":555.9,"v":733},{"x":562,"v":800},{"x":566.5,"v":835},{"x":571,"v":815},{"x":575.6,"v":765},{"x":580.1,"v":703},{"x":584.7,"v":615},{"x":587.7,"v":573},{"x":590.7,"v":560},{"x":593.7,"v":575},{"x":598.3,"v":630},{"x":602.8,"v":698},{"x":607.4,"v":738},{"x":611.9,"v":790},{"x":615.5,"v":812},{"x":619.5,"v":757},{"x":624,"v":668},{"x":627.9,"v":640},{"x":631.6,"v":663},{"x":636.1,"v":738},{"x":640.6,"v":800},{"x":645.2,"v":815},{"x":648.2,"v":813},{"x":651.2,"v":802},{"x":655.8,"v":809},{"x":660.3,"v":826},{"x":664.8,"v":777},{"x":669.4,"v":675},{"x":672.4,"v":642},{"x":675.4,"v":626},{"x":678.5,"v":638},{"x":683,"v":702},{"x":687.5,"v":773},{"x":692.1,"v":812},{"x":695.1,"v":826},{"x":699.6,"v":808},{"x":703.6,"v":760},{"x":707.2,"v":650},{"x":710.2,"v":570},{"x":713.9,"v":528},{"x":716.3,"v":530},{"x":719.3,"v":545},{"x":723.8,"v":587},{"x":728.4,"v":670},{"x":732.9,"v":755},{"x":737.5,"v":822},{"x":742,"v":855},{"x":744.1,"v":862},{"x":746.5,"v":818},{"x":749.6,"v":760},{"x":752,"v":747},{"x":755.6,"v":755},{"x":758.6,"v":750},{"x":763.2,"v":766},{"x":767.7,"v":760},{"x":770.7,"v":763},{"x":775.3,"v":792},{"x":779.8,"v":813},{"x":784.4,"v":820},{"x":788.9,"v":808},{"x":791.5,"v":804},{"x":794.5,"v":765},{"x":797.5,"v":628},{"x":802.1,"v":580},{"x":805.1,"v":615},{"x":809.6,"v":700},{"x":813.3,"v":752},{"x":816.3,"v":800},{"x":818.7,"v":745},{"x":821.7,"v":615},{"x":824.2,"v":597},{"x":827.8,"v":626},{"x":832.3,"v":648},{"x":835.3,"v":670},{"x":838.4,"v":595},{"x":841.4,"v":553},{"x":844.4,"v":505},{"x":847.5,"v":487},{"x":850.5,"v":506},{"x":853.5,"v":550},{"x":858,"v":635},{"x":864.1,"v":727},{"x":870.1,"v":774},{"x":876.2,"v":817},{"x":882.2,"v":808},{"x":885.3,"v":760},{"x":889.8,"v":698},{"x":894.4,"v":670},{"x":898.9,"v":668},{"x":903.4,"v":700},{"x":908.9,"v":728},{"x":914,"v":716},{"x":918.6,"v":703},{"x":921.6,"v":712},{"x":926.1,"v":657},{"x":930.7,"v":580},{"x":934.3,"v":515},{"x":938.2,"v":482},{"x":941.3,"v":500},{"x":945.8,"v":588},{"x":950.3,"v":715},{"x":954.9,"v":773},{"x":959.4,"v":786},{"x":964,"v":800},{"x":967,"v":740},{"x":971.5,"v":704},{"x":976.1,"v":660},{"x":979.1,"v":640},{"x":983.6,"v":650},{"x":988.1,"v":662},{"x":992.7,"v":727},{"x":997.2,"v":756},{"x":1001.7,"v":768},{"x":1004.8,"v":778},{"x":1009.3,"v":760},{"x":1013.9,"v":762},{"x":1016.9,"v":650},{"x":1021.4,"v":550},{"x":1024.5,"v":430},{"x":1026.9,"v":295},{"x":1029,"v":290},{"x":1032,"v":335},{"x":1035.1,"v":470},{"x":1038.1,"v":610},{"x":1042.1,"v":752},{"x":1045.7,"v":820},{"x":1049.3,"v":830},{"x":1052.3,"v":793},{"x":1054.4,"v":752},{"x":1058.9,"v":695},{"x":1063.5,"v":660},{"x":1066.5,"v":650},{"x":1069.5,"v":662},{"x":1072.5,"v":710},{"x":1077.1,"v":762},{"x":1081.6,"v":805},{"x":1084.6,"v":825},{"x":1087.6,"v":805},{"x":1092.2,"v":760},{"x":1096.7,"v":742},{"x":1099.7,"v":746},{"x":1104.3,"v":775},{"x":1108.8,"v":806},{"x":1114.9,"v":825},{"x":1119.4,"v":824},{"x":1123.9,"v":820},{"x":1128.5,"v":784},{"x":1133,"v":750},{"x":1137.6,"v":735},{"x":1142.1,"v":753},{"x":1145.2,"v":778},{"x":1149.7,"v":805},{"x":1152.7,"v":772},{"x":1157.3,"v":722},{"x":1161.8,"v":738},{"x":1166.3,"v":768},{"x":1170.9,"v":796},{"x":1175.4,"v":806},{"x":1180,"v":818},{"x":1184.5,"v":785},{"x":1187.5,"v":756},{"x":1192.1,"v":755},{"x":1195.1,"v":705},{"x":1198.1,"v":645},{"x":1200.2,"v":570},{"x":1202,"v":460},{"x":1203.6,"v":320},{"x":1205.7,"v":160},{"x":1207.2,"v":100},{"x":1208.4,"v":85},{"x":1210.2,"v":80},{"x":1212.3,"v":118},{"x":1214.1,"v":105},{"x":1216.3,"v":130},{"x":1219.3,"v":270},{"x":1222.3,"v":385},{"x":1224.4,"v":478},{"x":1228.4,"v":505},{"x":1232.9,"v":522},{"x":1235.9,"v":552},{"x":1239,"v":610},{"x":1242,"v":695},{"x":1245,"v":757},{"x":1248,"v":800},{"x":1251.1,"v":785},{"x":1254.1,"v":756},{"x":1257.1,"v":744},{"x":1260.1,"v":715},{"x":1263.2,"v":677},{"x":1266.2,"v":662},{"x":1269.2,"v":682},{"x":1272.2,"v":655},{"x":1276.8,"v":620},{"x":1281.3,"v":550},{"x":1284.3,"v":560},{"x":1287.4,"v":612},{"x":1290.4,"v":640},{"x":1294.9,"v":670},{"x":1299.5,"v":727},{"x":1304,"v":762},{"x":1307,"v":786},{"x":1310.1,"v":795},{"x":1313.1,"v":786},{"x":1317.2,"v":786},{"x":1321.7,"v":808},{"x":1326.3,"v":822},{"x":1329.3,"v":833},{"x":1332.3,"v":805},{"x":1335.4,"v":752},{"x":1338.4,"v":738},{"x":1341.4,"v":752},{"x":1343.8,"v":772},{"x":1345.9,"v":745},{"x":1349,"v":655},{"x":1351.4,"v":525},{"x":1354.1,"v":460},{"x":1356.5,"v":452},{"x":1359,"v":445},{"x":1362,"v":470},{"x":1365,"v":452},{"x":1368,"v":440},{"x":1371,"v":465},{"x":1374.7,"v":575},{"x":1377.7,"v":668},{"x":1382.2,"v":755},{"x":1386.2,"v":812},{"x":1389.8,"v":832},{"x":1394.3,"v":815},{"x":1397.4,"v":762},{"x":1401.3,"v":650},{"x":1404.9,"v":596},{"x":1408,"v":610},{"x":1411,"v":650},{"x":1414,"v":625},{"x":1418.5,"v":580},{"x":1421.6,"v":485},{"x":1423.7,"v":440},{"x":1426.1,"v":475},{"x":1429.2,"v":560},{"x":1432.2,"v":640},{"x":1436.7,"v":727},{"x":1439.7,"v":785},{"x":1444.3,"v":775},{"x":1447.3,"v":742},{"x":1450.3,"v":640},{"x":1453.3,"v":565},{"x":1456.4,"v":528},{"x":1459.4,"v":540},{"x":1462.4,"v":575},{"x":1465.4,"v":548},{"x":1470,"v":546},{"x":1473,"v":562},{"x":1476,"v":612},{"x":1480.6,"v":698},{"x":1483.6,"v":775},{"x":1486.6,"v":760},{"x":1489.7,"v":765},{"x":1494.2,"v":775},{"x":1498.7,"v":748},{"x":1503.3,"v":692},{"x":1506.3,"v":650},{"x":1510.8,"v":612},{"x":1515.4,"v":670},{"x":1519.9,"v":733},{"x":1524.4,"v":782},{"x":1526.9,"v":812},{"x":1529,"v":765},{"x":1532,"v":595},{"x":1535,"v":465},{"x":1538,"v":440},{"x":1541.1,"v":475},{"x":1544.1,"v":558},{"x":1547.1,"v":668},{"x":1551.7,"v":727},{"x":1556.2,"v":740},{"x":1559.2,"v":760},{"x":1562.2,"v":705},{"x":1565.3,"v":605},{"x":1568.3,"v":575}],
"gold":[{"x":0,"v":642},{"x":3,"v":701},{"x":6,"v":689},{"x":9.1,"v":666},{"x":12.1,"v":645},{"x":16.6,"v":677},{"x":21.2,"v":701},{"x":23.3,"v":721},{"x":25.7,"v":701},{"x":28.7,"v":695},{"x":31.8,"v":703},{"x":35.7,"v":727},{"x":39.3,"v":715},{"x":43.9,"v":709},{"x":46.9,"v":689},{"x":49.9,"v":698},{"x":54.5,"v":715},{"x":57.5,"v":671},{"x":60.5,"v":663},{"x":63.5,"v":677},{"x":66.6,"v":680},{"x":69.6,"v":671},{"x":74.1,"v":701},{"x":78.7,"v":759},{"x":83.2,"v":800},{"x":86.8,"v":826},{"x":90.8,"v":794},{"x":95.3,"v":730},{"x":99.8,"v":701},{"x":102.9,"v":671},{"x":105.9,"v":525},{"x":108.9,"v":432},{"x":110.4,"v":417},{"x":113.5,"v":467},{"x":116.5,"v":537},{"x":119.5,"v":642},{"x":122.5,"v":724},{"x":125.6,"v":788},{"x":128.6,"v":817},{"x":131.6,"v":829},{"x":134.6,"v":788},{"x":137.7,"v":701},{"x":140.7,"v":648},{"x":143.7,"v":648},{"x":146.7,"v":677},{"x":149.8,"v":660},{"x":152.8,"v":677},{"x":157.3,"v":689},{"x":160.4,"v":712},{"x":164.9,"v":759},{"x":169.4,"v":794},{"x":172.5,"v":814},{"x":175.5,"v":829},{"x":178.5,"v":759},{"x":181.5,"v":654},{"x":184.6,"v":601},{"x":187.6,"v":601},{"x":190.6,"v":584},{"x":193.6,"v":595},{"x":196.7,"v":613},{"x":199.7,"v":584},{"x":202.7,"v":601},{"x":205.7,"v":631},{"x":208.8,"v":701},{"x":211.8,"v":759},{"x":216.3,"v":811},{"x":220.3,"v":841},{"x":223,"v":855},{"x":225.4,"v":811},{"x":228.4,"v":712},{"x":231.5,"v":613},{"x":233.9,"v":563},{"x":236,"v":584},{"x":239,"v":625},{"x":242,"v":701},{"x":246.6,"v":777},{"x":251.1,"v":806},{"x":255.7,"v":817},{"x":258.7,"v":835},{"x":261.7,"v":806},{"x":265.8,"v":747},{"x":268.8,"v":689},{"x":271.9,"v":648},{"x":274.9,"v":639},{"x":277.9,"v":671},{"x":281,"v":689},{"x":284,"v":683},{"x":287,"v":724},{"x":290,"v":741},{"x":296.1,"v":753},{"x":302.1,"v":771},{"x":306.7,"v":788},{"x":309.7,"v":800},{"x":312.7,"v":747},{"x":315.7,"v":677},{"x":318.8,"v":660},{"x":321.8,"v":645},{"x":324.8,"v":654},{"x":327.8,"v":671},{"x":330.8,"v":712},{"x":333.9,"v":765},{"x":336.9,"v":736},{"x":339.9,"v":724},{"x":342.9,"v":718},{"x":347.5,"v":718},{"x":350.5,"v":730},{"x":353.5,"v":771},{"x":358.1,"v":782},{"x":362.6,"v":797},{"x":367.2,"v":791},{"x":371.7,"v":794},{"x":377.7,"v":800},{"x":382.3,"v":817},{"x":386.8,"v":829},{"x":392.9,"v":832},{"x":397.4,"v":847},{"x":402,"v":852},{"x":407.4,"v":858},{"x":411,"v":841},{"x":415.6,"v":806},{"x":420.1,"v":765},{"x":424.7,"v":753},{"x":429.2,"v":753},{"x":433.7,"v":744},{"x":438.3,"v":759},{"x":441.3,"v":712},{"x":444.3,"v":706},{"x":448.9,"v":706},{"x":453.4,"v":724},{"x":458,"v":747},{"x":462.5,"v":759},{"x":467,"v":765},{"x":471.6,"v":794},{"x":476.1,"v":829},{"x":479.1,"v":811},{"x":483.7,"v":803},{"x":488.2,"v":794},{"x":492.7,"v":782},{"x":497.3,"v":777},{"x":501.8,"v":779},{"x":506.4,"v":800},{"x":510.9,"v":817},{"x":515.4,"v":844},{"x":520,"v":817},{"x":523,"v":800},{"x":526,"v":777},{"x":528.7,"v":718},{"x":531.7,"v":689},{"x":534.8,"v":584},{"x":537.8,"v":467},{"x":540.8,"v":321},{"x":542.9,"v":274},{"x":545.3,"v":327},{"x":548.4,"v":455},{"x":551.4,"v":555},{"x":554.4,"v":642},{"x":557.5,"v":701},{"x":559.6,"v":730},{"x":562,"v":671},{"x":565,"v":636},{"x":568,"v":642},{"x":571,"v":660},{"x":574,"v":683},{"x":578.6,"v":689},{"x":581.7,"v":712},{"x":584.7,"v":724},{"x":589.2,"v":715},{"x":592.2,"v":718},{"x":596.8,"v":747},{"x":599.8,"v":759},{"x":603.7,"v":701},{"x":607.4,"v":642},{"x":610.4,"v":645},{"x":613.4,"v":683},{"x":616.5,"v":736},{"x":619.5,"v":794},{"x":624,"v":826},{"x":627.1,"v":811},{"x":630.1,"v":730},{"x":633.1,"v":654},{"x":636.1,"v":631},{"x":639.2,"v":654},{"x":643.7,"v":701},{"x":648.2,"v":741},{"x":652.8,"v":777},{"x":655.8,"v":788},{"x":658.8,"v":777},{"x":663.4,"v":727},{"x":667.9,"v":730},{"x":672.4,"v":753},{"x":677,"v":794},{"x":681.5,"v":817},{"x":686,"v":811},{"x":690.6,"v":817},{"x":695.1,"v":811},{"x":699.7,"v":829},{"x":704.2,"v":852},{"x":708.7,"v":864},{"x":711.8,"v":874},{"x":716.3,"v":829},{"x":720.8,"v":817},{"x":725.4,"v":814},{"x":729.9,"v":814},{"x":733,"v":817},{"x":736,"v":835},{"x":739,"v":823},{"x":742,"v":823},{"x":745.1,"v":794},{"x":748.1,"v":753},{"x":751.1,"v":704},{"x":754.1,"v":695},{"x":757.2,"v":654},{"x":761.1,"v":619},{"x":764.7,"v":654},{"x":767.7,"v":701},{"x":770.8,"v":730},{"x":773.8,"v":759},{"x":776.8,"v":724},{"x":779.8,"v":701},{"x":782.9,"v":701},{"x":785.9,"v":712},{"x":788.5,"v":740},{"x":791.5,"v":788},{"x":794.5,"v":777},{"x":797.6,"v":777},{"x":800.6,"v":759},{"x":803.6,"v":671},{"x":806.6,"v":555},{"x":809.7,"v":350},{"x":811.2,"v":292},{"x":813.3,"v":266},{"x":815.7,"v":321},{"x":818.7,"v":409},{"x":821.7,"v":514},{"x":824.8,"v":584},{"x":827.8,"v":701},{"x":830.8,"v":730},{"x":833.8,"v":741},{"x":838.4,"v":771},{"x":841.4,"v":797},{"x":844.4,"v":771},{"x":847.5,"v":736},{"x":850.5,"v":724},{"x":853.5,"v":736},{"x":856.5,"v":765},{"x":859.5,"v":800},{"x":862.6,"v":826},{"x":865.6,"v":820},{"x":868.6,"v":809},{"x":871.6,"v":811},{"x":876.2,"v":794},{"x":880.7,"v":771},{"x":883.7,"v":712},{"x":886.8,"v":677},{"x":889.8,"v":663},{"x":892.8,"v":677},{"x":895.9,"v":724},{"x":900.4,"v":788},{"x":904.9,"v":835},{"x":909.5,"v":864},{"x":914,"v":873},{"x":917.1,"v":870},{"x":921.6,"v":829},{"x":926.1,"v":811},{"x":929.2,"v":817},{"x":932.2,"v":788},{"x":936.7,"v":765},{"x":941.3,"v":765},{"x":945.8,"v":777},{"x":948.8,"v":806},{"x":953.4,"v":835},{"x":956.4,"v":852},{"x":959.4,"v":841},{"x":962.5,"v":811},{"x":967,"v":741},{"x":969.9,"v":677},{"x":974.6,"v":642},{"x":979.1,"v":660},{"x":983.6,"v":701},{"x":988.2,"v":744},{"x":992.7,"v":765},{"x":997.3,"v":788},{"x":1001.8,"v":817},{"x":1006.3,"v":849},{"x":1009.4,"v":849},{"x":1012.4,"v":759},{"x":1013.9,"v":642},{"x":1015.4,"v":467},{"x":1016.9,"v":292},{"x":1018.7,"v":146},{"x":1020.5,"v":111},{"x":1022.6,"v":140},{"x":1025.7,"v":263},{"x":1028.7,"v":409},{"x":1031.7,"v":584},{"x":1034.7,"v":689},{"x":1037.8,"v":759},{"x":1042.3,"v":817},{"x":1046.8,"v":841},{"x":1051.4,"v":845},{"x":1054.4,"v":811},{"x":1057.4,"v":782},{"x":1060.5,"v":777},{"x":1065,"v":800},{"x":1069.5,"v":806},{"x":1074.1,"v":800},{"x":1077.1,"v":777},{"x":1080.1,"v":753},{"x":1083.1,"v":739},{"x":1086.2,"v":759},{"x":1089.2,"v":806},{"x":1093.7,"v":823},{"x":1098.2,"v":832},{"x":1102.8,"v":800},{"x":1105.8,"v":730},{"x":1108.8,"v":642},{"x":1111.9,"v":619},{"x":1114.9,"v":642},{"x":1119.4,"v":712},{"x":1124,"v":782},{"x":1128.5,"v":806},{"x":1131.5,"v":814},{"x":1134.6,"v":782},{"x":1139.1,"v":736},{"x":1143.6,"v":701},{"x":1148.2,"v":712},{"x":1152.7,"v":666},{"x":1155.8,"v":648},{"x":1158.8,"v":660},{"x":1161.8,"v":701},{"x":1166.4,"v":747},{"x":1170.9,"v":806},{"x":1175.4,"v":826},{"x":1180,"v":829},{"x":1184.5,"v":823},{"x":1189.1,"v":809},{"x":1192.1,"v":817},{"x":1195.1,"v":829},{"x":1198.1,"v":794},{"x":1201.2,"v":771},{"x":1204.2,"v":741},{"x":1207.2,"v":701},{"x":1210.2,"v":671},{"x":1213.3,"v":654},{"x":1216.3,"v":666},{"x":1219.3,"v":677},{"x":1222.3,"v":706},{"x":1225.4,"v":671},{"x":1228.4,"v":666},{"x":1231.4,"v":689},{"x":1234.4,"v":613},{"x":1237.5,"v":525},{"x":1240.5,"v":409},{"x":1243.5,"v":356},{"x":1245,"v":347},{"x":1248.1,"v":409},{"x":1251.1,"v":525},{"x":1254.1,"v":607},{"x":1257.1,"v":660},{"x":1260.2,"v":695},{"x":1263.2,"v":689},{"x":1266.2,"v":525},{"x":1269.2,"v":449},{"x":1272.3,"v":444},{"x":1276.8,"v":444},{"x":1281.3,"v":432},{"x":1284.4,"v":467},{"x":1287.4,"v":555},{"x":1290.4,"v":654},{"x":1293.4,"v":701},{"x":1296.5,"v":677},{"x":1299.5,"v":642},{"x":1302.5,"v":622},{"x":1305.5,"v":631},{"x":1308.6,"v":671},{"x":1311.6,"v":613},{"x":1314.2,"v":514},{"x":1315.7,"v":380},{"x":1317.8,"v":309},{"x":1320.2,"v":315},{"x":1323.3,"v":330},{"x":1326.3,"v":304},{"x":1329.3,"v":333},{"x":1332.4,"v":409},{"x":1334.8,"v":490},{"x":1336.9,"v":467},{"x":1339,"v":380},{"x":1341.4,"v":353},{"x":1343.8,"v":380},{"x":1346.8,"v":514},{"x":1349.9,"v":613},{"x":1353.5,"v":636},{"x":1358,"v":654},{"x":1362,"v":701},{"x":1365,"v":730},{"x":1368,"v":671},{"x":1371.7,"v":601},{"x":1374.7,"v":590},{"x":1379.2,"v":631},{"x":1383.7,"v":671},{"x":1388.3,"v":692},{"x":1392.8,"v":706},{"x":1395.9,"v":747},{"x":1398.9,"v":788},{"x":1402.5,"v":811},{"x":1404.9,"v":730},{"x":1407.9,"v":525},{"x":1411,"v":350},{"x":1414,"v":234},{"x":1417,"v":292},{"x":1420.1,"v":438},{"x":1423.1,"v":584},{"x":1426.7,"v":671},{"x":1430.7,"v":724},{"x":1435.2,"v":747},{"x":1438.2,"v":753},{"x":1441.3,"v":709},{"x":1444.3,"v":701},{"x":1448.8,"v":642},{"x":1453.4,"v":601},{"x":1456.4,"v":595},{"x":1459.4,"v":631},{"x":1463.9,"v":709},{"x":1467,"v":677},{"x":1470,"v":666},{"x":1473,"v":660},{"x":1477.6,"v":701},{"x":1482.1,"v":736},{"x":1485.1,"v":768},{"x":1488.9,"v":701},{"x":1491.9,"v":671},{"x":1495.5,"v":683},{"x":1498.5,"v":613},{"x":1501.5,"v":525},{"x":1504.6,"v":537},{"x":1507.6,"v":584},{"x":1512.1,"v":666},{"x":1516.6,"v":730},{"x":1521.2,"v":771},{"x":1524.2,"v":777},{"x":1527.2,"v":701},{"x":1530.2,"v":584},{"x":1533.3,"v":455},{"x":1537.8,"v":368},{"x":1540.8,"v":350},{"x":1543.8,"v":409},{"x":1548.4,"v":555},{"x":1552.9,"v":671},{"x":1557.4,"v":741},{"x":1560.4,"v":765},{"x":1565,"v":794},{"x":1568,"v":800}],
"turq":[{"x":0,"v":580},{"x":3,"v":655},{"x":6,"v":690},{"x":9,"v":688},{"x":12,"v":670},{"x":15,"v":652},{"x":19.6,"v":672},{"x":24.2,"v":696},{"x":26.3,"v":712},{"x":28.7,"v":703},{"x":31.7,"v":697},{"x":34.8,"v":702},{"x":38.7,"v":720},{"x":42.3,"v":714},{"x":46.9,"v":707},{"x":49.9,"v":692},{"x":52.9,"v":696},{"x":57.5,"v":708},{"x":60.5,"v":678},{"x":63.5,"v":668},{"x":66.5,"v":676},{"x":69.6,"v":678},{"x":72.6,"v":672},{"x":77.1,"v":698},{"x":81.7,"v":752},{"x":86.2,"v":792},{"x":89.8,"v":815},{"x":93.8,"v":792},{"x":98.3,"v":733},{"x":102.8,"v":703},{"x":105.9,"v":678},{"x":108.9,"v":555},{"x":111.9,"v":470},{"x":113.4,"v":455},{"x":116.5,"v":485},{"x":119.5,"v":545},{"x":122.5,"v":640},{"x":125.5,"v":718},{"x":128.6,"v":780},{"x":131.6,"v":808},{"x":134.6,"v":818},{"x":137.6,"v":785},{"x":140.7,"v":705},{"x":143.7,"v":658},{"x":146.7,"v":654},{"x":149.7,"v":672},{"x":152.8,"v":664},{"x":155.8,"v":676},{"x":160.3,"v":688},{"x":163.4,"v":708},{"x":167.9,"v":752},{"x":172.4,"v":787},{"x":175.5,"v":806},{"x":178.5,"v":818},{"x":181.5,"v":762},{"x":184.5,"v":665},{"x":187.6,"v":615},{"x":190.6,"v":608},{"x":193.6,"v":595},{"x":196.6,"v":600},{"x":199.7,"v":612},{"x":202.7,"v":596},{"x":205.7,"v":605},{"x":208.7,"v":630},{"x":211.8,"v":695},{"x":214.8,"v":752},{"x":219.3,"v":800},{"x":223.3,"v":830},{"x":226,"v":841},{"x":228.4,"v":812},{"x":231.4,"v":720},{"x":234.5,"v":628},{"x":236.9,"v":580},{"x":239,"v":590},{"x":242,"v":628},{"x":245,"v":698},{"x":249.6,"v":770},{"x":254.1,"v":800},{"x":258.7,"v":812},{"x":261.7,"v":826},{"x":264.7,"v":805},{"x":268.8,"v":752},{"x":271.8,"v":700},{"x":274.9,"v":660},{"x":277.9,"v":650},{"x":280.9,"v":672},{"x":284,"v":688},{"x":287,"v":686},{"x":290,"v":720},{"x":293,"v":738},{"x":299.1,"v":751},{"x":305.1,"v":768},{"x":309.7,"v":784},{"x":312.7,"v":795},{"x":315.7,"v":750},{"x":318.7,"v":688},{"x":321.8,"v":668},{"x":324.8,"v":655},{"x":327.8,"v":658},{"x":330.8,"v":673},{"x":333.8,"v":710},{"x":336.9,"v":755},{"x":339.9,"v":738},{"x":342.9,"v":727},{"x":345.9,"v":721},{"x":350.5,"v":720},{"x":353.5,"v":731},{"x":356.5,"v":765},{"x":361.1,"v":779},{"x":365.6,"v":792},{"x":370.2,"v":790},{"x":374.7,"v":793},{"x":380.7,"v":799},{"x":385.3,"v":814},{"x":389.8,"v":825},{"x":395.9,"v":830},{"x":400.4,"v":843},{"x":405,"v":848},{"x":410.4,"v":852},{"x":414,"v":838},{"x":418.6,"v":806},{"x":423.1,"v":768},{"x":427.7,"v":756},{"x":432.2,"v":754},{"x":436.7,"v":747},{"x":441.3,"v":755},{"x":444.3,"v":720},{"x":447.3,"v":712},{"x":451.9,"v":710},{"x":456.4,"v":724},{"x":461,"v":745},{"x":465.5,"v":757},{"x":470,"v":764},{"x":474.6,"v":790},{"x":479.1,"v":820},{"x":482.1,"v":810},{"x":486.7,"v":803},{"x":491.2,"v":795},{"x":495.7,"v":784},{"x":500.3,"v":779},{"x":504.8,"v":780},{"x":509.4,"v":797},{"x":513.9,"v":812},{"x":518.4,"v":835},{"x":523,"v":815},{"x":526,"v":800},{"x":529,"v":778},{"x":531.7,"v":728},{"x":534.7,"v":695},{"x":537.8,"v":605},{"x":540.8,"v":495},{"x":543.8,"v":365},{"x":545.9,"v":325},{"x":548.3,"v":350},{"x":551.4,"v":455},{"x":554.4,"v":550},{"x":557.4,"v":632},{"x":560.5,"v":690},{"x":562.6,"v":718},{"x":565,"v":676},{"x":568,"v":645},{"x":571,"v":646},{"x":574,"v":661},{"x":577,"v":680},{"x":581.6,"v":688},{"x":584.7,"v":708},{"x":587.7,"v":720},{"x":592.2,"v":716},{"x":595.2,"v":718},{"x":599.8,"v":743},{"x":602.8,"v":753},{"x":606.7,"v":706},{"x":610.4,"v":655},{"x":613.4,"v":650},{"x":616.4,"v":680},{"x":619.5,"v":728},{"x":622.5,"v":783},{"x":627,"v":812},{"x":630.1,"v":805},{"x":633.1,"v":735},{"x":636.1,"v":668},{"x":639.1,"v":642},{"x":642.2,"v":657},{"x":646.7,"v":700},{"x":651.2,"v":738},{"x":655.8,"v":770},{"x":658.8,"v":781},{"x":661.8,"v":773},{"x":666.4,"v":730},{"x":670.9,"v":731},{"x":675.4,"v":751},{"x":680,"v":790},{"x":684.5,"v":812},{"x":689,"v":810},{"x":693.6,"v":815},{"x":698.1,"v":811},{"x":702.7,"v":826},{"x":707.2,"v":846},{"x":711.7,"v":857},{"x":714.8,"v":866},{"x":719.3,"v":832},{"x":723.8,"v":819},{"x":728.4,"v":815},{"x":732.9,"v":815},{"x":736,"v":818},{"x":739,"v":830},{"x":742,"v":823},{"x":745,"v":822},{"x":748.1,"v":795},{"x":751.1,"v":758},{"x":754.1,"v":712},{"x":757.1,"v":700},{"x":760.2,"v":665},{"x":764.1,"v":632},{"x":767.7,"v":656},{"x":770.7,"v":697},{"x":773.8,"v":726},{"x":776.8,"v":750},{"x":779.8,"v":724},{"x":782.8,"v":705},{"x":785.9,"v":703},{"x":788.9,"v":712},{"x":791.5,"v":735},{"x":794.5,"v":778},{"x":797.5,"v":776},{"x":800.6,"v":775},{"x":803.6,"v":758},{"x":806.6,"v":680},{"x":809.6,"v":570},{"x":812.7,"v":385},{"x":814.2,"v":325},{"x":816.3,"v":304},{"x":818.7,"v":340},{"x":821.7,"v":415},{"x":824.7,"v":510},{"x":827.8,"v":578},{"x":830.8,"v":690},{"x":833.8,"v":724},{"x":836.8,"v":738},{"x":841.4,"v":766},{"x":844.4,"v":788},{"x":847.4,"v":770},{"x":850.5,"v":740},{"x":853.5,"v":728},{"x":856.5,"v":737},{"x":859.5,"v":762},{"x":862.5,"v":795},{"x":865.6,"v":818},{"x":868.6,"v":815},{"x":871.6,"v":808},{"x":874.6,"v":809},{"x":879.2,"v":793},{"x":883.7,"v":772},{"x":886.7,"v":720},{"x":889.8,"v":688},{"x":892.8,"v":674},{"x":895.8,"v":682},{"x":898.9,"v":722},{"x":903.4,"v":783},{"x":907.9,"v":828},{"x":912.5,"v":856},{"x":917,"v":866},{"x":920.1,"v":864},{"x":924.6,"v":830},{"x":929.1,"v":814},{"x":932.2,"v":815},{"x":935.2,"v":790},{"x":939.7,"v":768},{"x":944.3,"v":766},{"x":948.8,"v":776},{"x":951.8,"v":800},{"x":956.4,"v":828},{"x":959.4,"v":845},{"x":962.4,"v":837},{"x":965.5,"v":810},{"x":970,"v":745},{"x":972.9,"v":688},{"x":977.6,"v":655},{"x":982.1,"v":665},{"x":986.6,"v":702},{"x":991.2,"v":740},{"x":995.7,"v":762},{"x":1000.3,"v":785},{"x":1004.8,"v":812},{"x":1009.3,"v":840},{"x":1012.4,"v":843},{"x":1015.4,"v":765},{"x":1016.9,"v":665},{"x":1018.4,"v":500},{"x":1019.9,"v":340},{"x":1021.7,"v":200},{"x":1023.5,"v":158},{"x":1025.6,"v":175},{"x":1028.7,"v":280},{"x":1031.7,"v":415},{"x":1034.7,"v":575},{"x":1037.7,"v":680},{"x":1040.8,"v":750},{"x":1045.3,"v":808},{"x":1049.8,"v":832},{"x":1054.4,"v":836},{"x":1057.4,"v":812},{"x":1060.4,"v":787},{"x":1063.5,"v":780},{"x":1068,"v":797},{"x":1072.5,"v":803},{"x":1077.1,"v":798},{"x":1080.1,"v":778},{"x":1083.1,"v":757},{"x":1086.1,"v":744},{"x":1089.2,"v":760},{"x":1092.2,"v":800},{"x":1096.7,"v":818},{"x":1101.2,"v":826},{"x":1105.8,"v":800},{"x":1108.8,"v":738},{"x":1111.8,"v":660},{"x":1114.9,"v":635},{"x":1117.9,"v":650},{"x":1122.4,"v":712},{"x":1127,"v":776},{"x":1131.5,"v":800},{"x":1134.5,"v":808},{"x":1137.6,"v":782},{"x":1142.1,"v":740},{"x":1146.6,"v":708},{"x":1151.2,"v":712},{"x":1155.7,"v":672},{"x":1158.8,"v":656},{"x":1161.8,"v":664},{"x":1164.8,"v":700},{"x":1169.4,"v":743},{"x":1173.9,"v":800},{"x":1178.4,"v":820},{"x":1183,"v":825},{"x":1187.5,"v":820},{"x":1192.1,"v":808},{"x":1195.1,"v":814},{"x":1198.1,"v":824},{"x":1201.1,"v":795},{"x":1204.2,"v":772},{"x":1207.2,"v":743},{"x":1210.2,"v":705},{"x":1213.2,"v":676},{"x":1216.3,"v":660},{"x":1219.3,"v":667},{"x":1222.3,"v":677},{"x":1225.3,"v":700},{"x":1228.4,"v":675},{"x":1231.4,"v":670},{"x":1234.4,"v":685},{"x":1237.4,"v":620},{"x":1240.5,"v":538},{"x":1243.5,"v":430},{"x":1246.5,"v":378},{"x":1248,"v":371},{"x":1251.1,"v":420},{"x":1254.1,"v":525},{"x":1257.1,"v":603},{"x":1260.1,"v":655},{"x":1263.2,"v":688},{"x":1266.2,"v":686},{"x":1269.2,"v":540},{"x":1272.2,"v":468},{"x":1275.3,"v":460},{"x":1279.8,"v":458},{"x":1284.3,"v":448},{"x":1287.4,"v":475},{"x":1290.4,"v":555},{"x":1293.4,"v":645},{"x":1296.4,"v":695},{"x":1299.5,"v":680},{"x":1302.5,"v":648},{"x":1305.5,"v":630},{"x":1308.5,"v":635},{"x":1311.6,"v":665},{"x":1314.6,"v":620},{"x":1317.2,"v":530},{"x":1318.7,"v":410},{"x":1320.8,"v":340},{"x":1323.2,"v":330},{"x":1326.3,"v":338},{"x":1329.3,"v":325},{"x":1332.3,"v":340},{"x":1335.4,"v":405},{"x":1337.8,"v":475},{"x":1339.9,"v":465},{"x":1342,"v":395},{"x":1344.4,"v":372},{"x":1346.8,"v":392},{"x":1349.8,"v":510},{"x":1352.9,"v":605},{"x":1356.5,"v":632},{"x":1361,"v":652},{"x":1365,"v":695},{"x":1368,"v":722},{"x":1371,"v":676},{"x":1374.7,"v":612},{"x":1377.7,"v":598},{"x":1382.2,"v":630},{"x":1386.7,"v":668},{"x":1391.3,"v":690},{"x":1395.8,"v":705},{"x":1398.9,"v":742},{"x":1401.9,"v":780},{"x":1405.5,"v":800},{"x":1407.9,"v":738},{"x":1410.9,"v":550},{"x":1414,"v":385},{"x":1417,"v":277},{"x":1420,"v":310},{"x":1423.1,"v":440},{"x":1426.1,"v":578},{"x":1429.7,"v":665},{"x":1433.7,"v":718},{"x":1438.2,"v":742},{"x":1441.2,"v":749},{"x":1444.3,"v":712},{"x":1447.3,"v":703},{"x":1451.8,"v":648},{"x":1456.4,"v":610},{"x":1459.4,"v":603},{"x":1462.4,"v":632},{"x":1466.9,"v":700},{"x":1470,"v":680},{"x":1473,"v":670},{"x":1476,"v":663},{"x":1480.6,"v":698},{"x":1485.1,"v":732},{"x":1488.1,"v":760},{"x":1491.9,"v":706},{"x":1494.9,"v":678},{"x":1498.5,"v":682},{"x":1501.5,"v":625},{"x":1504.5,"v":545},{"x":1507.6,"v":545},{"x":1510.6,"v":585},{"x":1515.1,"v":662},{"x":1519.6,"v":724},{"x":1524.2,"v":764},{"x":1527.2,"v":772},{"x":1530.2,"v":708},{"x":1533.2,"v":598},{"x":1536.3,"v":478},{"x":1540.8,"v":395},{"x":1543.8,"v":372},{"x":1546.8,"v":418},{"x":1551.4,"v":552},{"x":1555.9,"v":665},{"x":1560.4,"v":733},{"x":1563.4,"v":757},{"x":1568,"v":788}]
},
"layer":[
{"data":{"name":"bars"},"mark":{"type":"rule","color":"#22DD22","strokeWidth":1.7,"clip":true},
 "encoding":{"x":{"field":"x","type":"quantitative","scale":{"domain":[0,1568],"nice":false,"zero":false},"axis":null},
 "y":{"field":"p1","type":"quantitative","scale":{"domain":[0,911],"reverse":true,"nice":false,"zero":false},"axis":null},
 "y2":{"field":"p2"}}},
{"data":{"name":"turq"},"mark":{"type":"line","color":"#AFEEEE","strokeWidth":1.3,"clip":true},
 "encoding":{"x":{"field":"x","type":"quantitative","scale":{"domain":[0,1568],"nice":false,"zero":false},"axis":null},
 "y":{"field":"v","type":"quantitative","scale":{"domain":[0,911],"reverse":true,"nice":false,"zero":false},"axis":null}}},
{"data":{"name":"gold"},"mark":{"type":"line","color":"#FFD700","strokeWidth":1.3,"clip":true},
 "encoding":{"x":{"field":"x","type":"quantitative","scale":{"domain":[0,1568],"nice":false,"zero":false},"axis":null},
 "y":{"field":"v","type":"quantitative","scale":{"domain":[0,911],"reverse":true,"nice":false,"zero":false},"axis":null}}},
{"data":{"name":"dblue"},"mark":{"type":"line","color":"#1E90FF","strokeWidth":1.3,"clip":true},
 "encoding":{"x":{"field":"x","type":"quantitative","scale":{"domain":[0,1568],"nice":false,"zero":false},"axis":null},
 "y":{"field":"v","type":"quantitative","scale":{"domain":[0,911],"reverse":true,"nice":false,"zero":false},"axis":null}}},
{"data":{"name":"blue"},"mark":{"type":"line","color":"#0000FF","strokeWidth":1.3,"clip":true},
 "encoding":{"x":{"field":"x","type":"quantitative","scale":{"domain":[0,1568],"nice":false,"zero":false},"axis":null},
 "y":{"field":"v","type":"quantitative","scale":{"domain":[0,911],"reverse":true,"nice":false,"zero":false},"axis":null}}}
]
}
